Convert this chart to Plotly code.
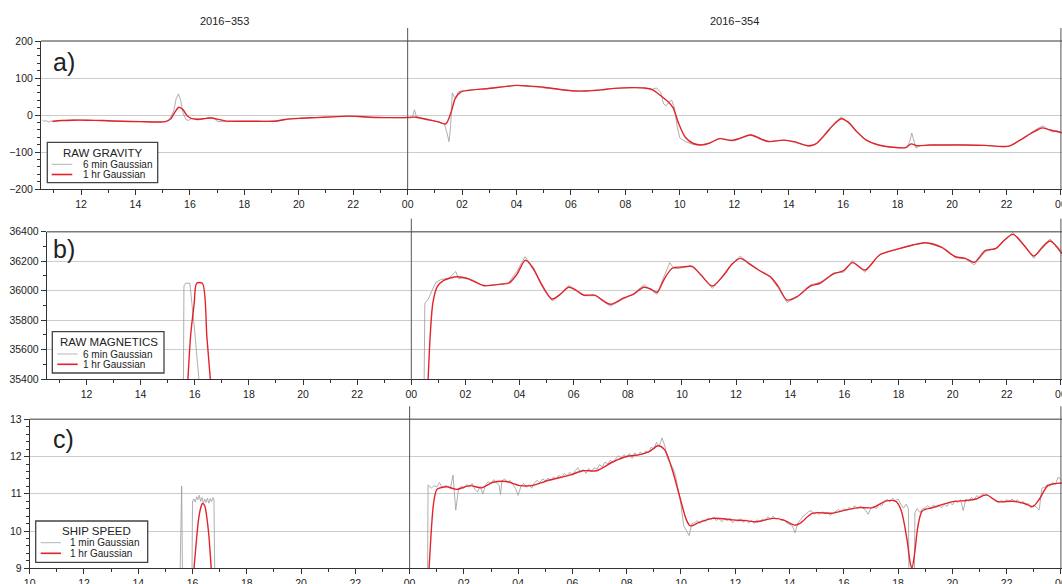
import plotly.graph_objects as go

FIG_W, FIG_H = 1062, 584

# ---------------------------------------------------------------- data
# time axis: hours since 2016-353 00:00 (24 = 2016-354 00:00)
DAY_NAMES = ["2016\u2212353", "2016\u2212354"]
DAY_BOUNDARIES = [24, 48]
TICK_HOURS = [10, 12, 14, 16, 18, 20, 22, 24, 26, 28, 30, 32, 34, 36, 38, 40, 42, 44, 46, 48]
TICK_LABELS = ["10", "12", "14", "16", "18", "20", "22", "00", "02", "04",
               "06", "08", "10", "12", "14", "16", "18", "20", "22", "00"]
MINOR_HOURS = [11, 13, 15, 17, 19, 21, 23, 25, 27, 29, 31, 33, 35, 37, 39, 41, 43, 45, 47]

# a) raw gravity (mGal)
GRAV_6MIN = [
    (10.58, -14), (10.65, -17), (10.72, -15), (10.8, -19), (10.9, -16), (11.0, -18),
    (11.2, -15), (11.5, -13), (11.8, -13), (12.2, -14), (12.6, -14), (13.0, -16),
    (13.4, -17), (13.8, -18), (14.2, -18), (14.6, -19), (14.9, -19), (15.1, -18),
    (15.25, -12), (15.4, 10), (15.5, 45), (15.58, 57), (15.66, 40), (15.75, 5),
    (15.85, -12), (15.95, -15), (16.05, -10), (16.2, -9), (16.4, -11), (16.6, -9),
    (16.75, -6), (16.9, -10), (17.0, -17), (17.2, -18), (17.6, -17), (18.0, -17),
    (18.5, -17), (19.0, -17), (19.3, -16), (19.6, -11), (20.0, -10), (20.5, -8),
    (21.0, -6), (21.5, -4), (22.0, -3), (22.5, -6), (23.0, -7), (23.5, -7),
    (23.9, -7), (24.1, -8), (24.18, -6), (24.25, 14), (24.32, -4), (24.5, -8),
    (24.8, -12), (25.1, -18), (25.35, -24), (25.45, -50), (25.52, -72), (25.58, -30),
    (25.64, 60), (25.7, 50), (25.78, 48), (25.85, 62), (25.95, 65), (26.2, 67),
    (26.6, 69), (27.0, 72), (27.4, 76), (27.8, 78), (28.0, 80), (28.4, 78),
    (28.8, 75), (29.2, 72), (29.6, 68), (30.0, 66), (30.4, 65), (30.8, 66),
    (31.2, 69), (31.6, 72), (32.0, 74), (32.4, 74), (32.8, 72), (33.0, 70),
    (33.15, 73), (33.3, 60), (33.4, 30), (33.5, 25), (33.6, 35), (33.7, 40),
    (33.8, 20), (33.9, -30), (34.0, -62), (34.2, -72), (34.5, -80), (34.8, -80),
    (35.0, -77), (35.3, -68), (35.5, -63), (35.8, -67), (36.0, -70), (36.3, -62),
    (36.6, -52), (36.9, -60), (37.2, -72), (37.6, -69), (37.9, -68), (38.2, -74),
    (38.6, -82), (38.8, -85), (39.1, -74), (39.4, -50), (39.7, -20), (39.93, -5),
    (40.2, -22), (40.5, -45), (40.8, -65), (41.1, -77), (41.5, -85), (41.9, -88),
    (42.2, -89), (42.35, -88), (42.45, -70), (42.52, -49), (42.6, -70), (42.68, -90),
    (42.8, -83), (43.2, -81), (43.7, -81), (44.2, -80), (44.7, -82), (45.2, -82),
    (45.7, -85), (46.0, -86), (46.3, -78), (46.6, -62), (46.9, -48), (47.2, -34),
    (47.35, -30), (47.5, -38), (47.7, -46), (47.85, -42), (48.04, -48),
]
GRAV_1HR = [
    (10.95, -17), (11.3, -15), (11.7, -14), (12.2, -14), (12.8, -15), (13.5, -17),
    (14.2, -18), (14.8, -19), (15.1, -18), (15.3, -10), (15.45, 8), (15.6, 21),
    (15.75, 14), (15.9, -2), (16.05, -9), (16.3, -12), (16.6, -9), (16.8, -8),
    (17.0, -11), (17.3, -16), (17.8, -17), (18.5, -17), (19.1, -17), (19.5, -12),
    (20.0, -9), (20.6, -7), (21.2, -5), (21.8, -3), (22.2, -4), (22.6, -6),
    (23.2, -7), (23.8, -7), (24.3, -6), (24.7, -12), (25.1, -18), (25.4, -24),
    (25.6, 8), (25.75, 45), (25.95, 62), (26.4, 68), (26.9, 71), (27.5, 76),
    (28.0, 80), (28.5, 78), (29.0, 75), (29.6, 69), (30.1, 65), (30.6, 65),
    (31.1, 68), (31.6, 72), (32.2, 74), (32.7, 73), (33.0, 68), (33.3, 52),
    (33.55, 37), (33.75, 20), (33.95, -22), (34.2, -60), (34.5, -77), (34.8, -81),
    (35.1, -76), (35.45, -64), (35.9, -69), (36.2, -63), (36.6, -54), (37.0, -66),
    (37.3, -72), (37.8, -68), (38.2, -72), (38.7, -83), (39.0, -78), (39.3, -55),
    (39.6, -30), (39.93, -10), (40.2, -20), (40.5, -45), (40.85, -68), (41.3, -81),
    (41.8, -87), (42.3, -88), (42.5, -78), (42.7, -83), (43.2, -81), (43.8, -81),
    (44.5, -81), (45.2, -82), (45.8, -85), (46.1, -84), (46.5, -68), (46.9, -50),
    (47.3, -35), (47.5, -38), (47.8, -44), (48.04, -48),
]

# b) raw magnetics (nT)
MAG_6MIN = [
    (15.58, 35300), (15.6, 36030), (15.66, 36050), (15.82, 36050), (16.0, 35720),
    (16.2, 35300), (20.0, None),
    (24.47, 35300), (24.5, 35914), (24.62, 35940), (24.75, 35990), (24.9, 36055),
    (25.1, 36075), (25.4, 36085), (25.64, 36130), (25.75, 36080), (26.0, 36090),
    (26.3, 36070), (26.68, 36030), (27.0, 36040), (27.3, 36042), (27.6, 36055),
    (27.9, 36130), (28.2, 36230), (28.5, 36160), (28.85, 36020), (29.2, 35930),
    (29.5, 35970), (29.82, 36035), (30.1, 36005), (30.37, 35965), (30.8, 35966),
    (31.1, 35925), (31.36, 35895), (31.85, 35945), (32.22, 35980), (32.59, 36040),
    (32.85, 36005), (33.08, 35975), (33.3, 36080), (33.55, 36190), (33.7, 36150),
    (33.9, 36150), (34.1, 36160), (34.38, 36170), (34.7, 36110), (35.12, 36015),
    (35.54, 36100), (35.85, 36180), (36.15, 36235), (36.5, 36185), (36.83, 36140),
    (37.27, 36090), (37.55, 36020), (37.88, 35920), (38.25, 35955), (38.74, 36040),
    (39.1, 36055), (39.6, 36120), (39.97, 36125), (40.3, 36205), (40.76, 36125),
    (41.3, 36245), (41.92, 36280), (42.54, 36312), (43.0, 36326), (43.6, 36292),
    (44.1, 36225), (44.47, 36215), (44.8, 36175), (45.2, 36265), (45.6, 36285),
    (45.9, 36345), (46.23, 36395), (46.63, 36305), (47.0, 36220), (47.3, 36300),
    (47.6, 36350), (48.04, 36265),
]
MAG_1HR = [
    (15.72, 35300), (15.85, 35700), (15.98, 35914), (16.07, 36050), (16.28, 36050),
    (16.45, 35680), (16.62, 35300), (20.0, None),
    (24.6, 35300), (24.7, 35700), (24.8, 35920), (24.96, 36027), (25.2, 36070),
    (25.7, 36094), (26.1, 36080), (26.68, 36035), (27.3, 36044), (27.6, 36050),
    (27.9, 36110), (28.22, 36207), (28.5, 36150), (28.85, 36030), (29.2, 35943),
    (29.5, 35975), (29.82, 36023), (30.1, 36000), (30.37, 35970), (30.8, 35968),
    (31.1, 35930), (31.36, 35907), (31.85, 35950), (32.22, 35977), (32.59, 36023),
    (32.85, 36010), (33.08, 35989), (33.35, 36080), (33.64, 36152), (34.0, 36160),
    (34.38, 36163), (34.7, 36106), (35.12, 36031), (35.54, 36106), (35.85, 36180),
    (36.15, 36219), (36.5, 36180), (36.83, 36140), (37.27, 36094), (37.55, 36030),
    (37.88, 35936), (38.25, 35959), (38.74, 36031), (39.1, 36050), (39.6, 36113),
    (39.97, 36135), (40.3, 36190), (40.76, 36140), (41.3, 36242), (41.92, 36280),
    (42.54, 36310), (43.0, 36325), (43.6, 36294), (44.1, 36230), (44.47, 36219),
    (44.8, 36192), (45.2, 36271), (45.6, 36287), (45.9, 36340), (46.23, 36382),
    (46.63, 36310), (47.0, 36235), (47.3, 36290), (47.6, 36337), (48.04, 36250),
]

# c) ship speed (knots)
SPEED_1MIN = [
    (15.54, 8.8), (15.6, 11.21), (15.63, 8.8), (15.8, None),
    (15.98, 8.8), (16.0, 10.8), (16.05, 10.86), (16.1, 10.78), (16.15, 10.92),
    (16.2, 10.84), (16.25, 10.96), (16.3, 10.8), (16.35, 10.9), (16.4, 10.74),
    (16.45, 10.86), (16.5, 10.77), (16.55, 10.88), (16.6, 10.75), (16.65, 10.87),
    (16.7, 10.79), (16.75, 10.9), (16.79, 10.86), (16.82, 8.8), (20.0, None),
    (24.66, 8.8), (24.68, 11.24), (24.8, 11.15), (24.9, 11.22), (25.0, 11.18),
    (25.1, 11.3), (25.2, 11.16), (25.3, 11.22), (25.4, 11.2), (25.5, 11.14),
    (25.6, 11.5), (25.7, 10.56), (25.8, 11.12), (25.9, 11.2), (26.0, 11.15),
    (26.1, 11.25), (26.2, 11.18), (26.3, 11.28), (26.4, 11.12), (26.5, 11.05),
    (26.6, 11.2), (26.7, 11.0), (26.8, 11.25), (26.9, 11.32), (27.0, 11.28),
    (27.1, 11.38), (27.2, 11.3), (27.3, 11.22), (27.35, 10.98), (27.4, 11.34),
    (27.5, 11.4), (27.6, 11.3), (27.7, 11.36), (27.8, 11.24), (27.9, 11.15),
    (28.0, 10.96), (28.1, 11.2), (28.2, 11.28), (28.3, 11.18), (28.4, 11.24),
    (28.5, 11.15), (28.6, 11.3), (28.7, 11.36), (28.8, 11.3), (28.9, 11.4),
    (29.0, 11.35), (29.1, 11.42), (29.2, 11.36), (29.3, 11.45), (29.4, 11.4),
    (29.5, 11.5), (29.6, 11.42), (29.7, 11.55), (29.8, 11.48), (29.9, 11.58),
    (30.0, 11.5), (30.1, 11.62), (30.2, 11.7), (30.3, 11.58), (30.4, 11.65),
    (30.5, 11.55), (30.6, 11.68), (30.7, 11.6), (30.8, 11.7), (30.9, 11.66),
    (31.0, 11.78), (31.1, 11.72), (31.2, 11.85), (31.3, 11.8), (31.4, 11.9),
    (31.5, 11.84), (31.6, 11.95), (31.7, 12.02), (31.8, 11.96), (31.9, 12.05),
    (32.0, 11.98), (32.1, 12.08), (32.2, 11.95), (32.3, 12.1), (32.4, 12.02),
    (32.5, 12.12), (32.6, 12.06), (32.7, 12.15), (32.8, 12.1), (32.9, 12.25),
    (33.0, 12.2), (33.1, 12.38), (33.2, 12.28), (33.3, 12.5), (33.4, 12.3),
    (33.5, 11.95), (33.6, 11.82), (33.7, 11.7), (33.8, 11.48), (33.9, 11.1),
    (34.0, 10.7), (34.1, 10.15), (34.2, 10.0), (34.3, 9.88), (34.4, 10.2),
    (34.5, 10.22), (34.6, 10.28), (34.7, 10.2), (34.8, 10.3), (34.9, 10.26),
    (35.0, 10.35), (35.1, 10.3), (35.2, 10.38), (35.3, 10.28), (35.4, 10.34),
    (35.5, 10.25), (35.6, 10.32), (35.7, 10.28), (35.8, 10.35), (35.9, 10.22),
    (36.0, 10.3), (36.1, 10.26), (36.2, 10.33), (36.3, 10.24), (36.4, 10.3),
    (36.5, 10.22), (36.6, 10.28), (36.7, 10.2), (36.8, 10.3), (36.9, 10.25),
    (37.0, 10.32), (37.1, 10.28), (37.2, 10.38), (37.3, 10.33), (37.4, 10.4),
    (37.5, 10.32), (37.6, 10.35), (37.7, 10.28), (37.8, 10.3), (37.9, 10.22),
    (38.0, 10.18), (38.1, 10.15), (38.2, 9.95), (38.3, 10.2), (38.4, 10.3),
    (38.5, 10.4), (38.6, 10.45), (38.7, 10.52), (38.8, 10.55), (38.9, 10.45),
    (39.0, 10.5), (39.1, 10.44), (39.2, 10.52), (39.3, 10.46), (39.4, 10.5),
    (39.5, 10.42), (39.6, 10.48), (39.7, 10.52), (39.8, 10.58), (39.9, 10.52),
    (40.0, 10.6), (40.1, 10.55), (40.2, 10.64), (40.3, 10.58), (40.4, 10.68),
    (40.5, 10.6), (40.6, 10.66), (40.7, 10.62), (40.8, 10.56), (40.9, 10.45),
    (41.0, 10.62), (41.1, 10.66), (41.2, 10.6), (41.3, 10.72), (41.4, 10.68),
    (41.5, 10.8), (41.6, 10.85), (41.7, 10.78), (41.8, 10.88), (41.9, 10.82),
    (42.0, 10.86), (42.1, 10.72), (42.2, 10.62), (42.3, 10.72), (42.38, 10.6),
    (42.4, 8.8), (42.6, 8.8), (42.62, 10.5), (42.7, 10.6), (42.8, 10.5),
    (42.9, 10.6), (43.0, 10.62), (43.1, 10.68), (43.2, 10.6), (43.3, 10.7),
    (43.4, 10.64), (43.5, 10.7), (43.6, 10.62), (43.7, 10.72), (43.8, 10.66),
    (43.9, 10.78), (44.0, 10.7), (44.1, 10.82), (44.2, 10.76), (44.3, 10.84),
    (44.4, 10.55), (44.5, 10.86), (44.6, 10.8), (44.7, 10.9), (44.8, 10.84),
    (44.9, 10.95), (45.0, 10.9), (45.1, 11.0), (45.2, 10.96), (45.3, 10.98),
    (45.4, 10.9), (45.5, 10.85), (45.6, 10.8), (45.7, 10.76), (45.8, 10.82),
    (45.9, 10.78), (46.0, 10.84), (46.1, 10.8), (46.2, 10.86), (46.3, 10.78),
    (46.4, 10.84), (46.5, 10.74), (46.6, 10.8), (46.7, 10.7), (46.8, 10.74),
    (46.9, 10.62), (47.0, 10.7), (47.1, 10.62), (47.2, 10.57), (47.3, 11.15),
    (47.4, 11.18), (47.5, 11.25), (47.6, 11.2), (47.7, 11.3), (47.8, 11.26),
    (47.9, 11.45), (48.04, 11.35),
]
SPEED_1HR = [
    (16.03, 8.8), (16.15, 9.8), (16.22, 10.3), (16.3, 10.62), (16.37, 10.74),
    (16.45, 10.68), (16.52, 10.4), (16.6, 9.9), (16.69, 9.0), (16.72, 8.8),
    (20.0, None),
    (24.7, 8.8), (24.78, 9.8), (24.86, 10.6), (24.93, 10.95), (25.01, 11.12),
    (25.36, 11.19), (25.73, 11.12), (26.22, 11.22), (26.65, 11.16), (27.08, 11.31),
    (27.57, 11.33), (28.06, 11.22), (28.49, 11.22), (29.16, 11.37), (29.9, 11.5),
    (30.39, 11.62), (30.88, 11.62), (31.5, 11.86), (31.99, 12.0), (32.48, 12.05),
    (32.85, 12.14), (33.15, 12.29), (33.4, 12.18), (33.68, 11.64), (33.95, 10.93),
    (34.2, 10.3), (34.34, 10.14), (34.69, 10.24), (35.18, 10.34), (35.92, 10.3),
    (36.4, 10.28), (36.78, 10.25), (37.39, 10.34), (37.76, 10.3), (38.19, 10.16),
    (38.37, 10.2), (38.86, 10.48), (39.6, 10.48), (40.09, 10.57), (40.58, 10.63),
    (41.07, 10.63), (41.57, 10.81), (41.93, 10.79), (42.12, 10.54), (42.33, 9.76),
    (42.45, 9.13), (42.51, 9.0), (42.61, 9.4), (42.73, 10.12), (42.89, 10.54),
    (43.28, 10.63), (44.02, 10.79), (44.51, 10.82), (44.88, 10.86), (45.25, 10.97),
    (45.68, 10.79), (46.23, 10.8), (46.66, 10.74), (46.97, 10.66), (47.21, 10.86),
    (47.52, 11.22), (48.04, 11.29),
]

# ---------------------------------------------------------------- styling
FONT = "Liberation Sans, Arial, Helvetica, sans-serif"
TXT = "#222222"
AX = "#333333"
RED = "#e3232b"
GRAY = "#9a9a9a"


def px_x(p):
    return p / FIG_W


def px_y(p):
    return 1 - p / FIG_H


PANELS = [
    dict(letter="a)", title="RAW GRAVITY", fine="6 min Gaussian", fine_data=GRAV_6MIN,
         smooth_data=GRAV_1HR, left=41.0, top=41.0, bottom=189.0, xstart=10.53,
         yrange=[-200, 200], dtick=100, minor=20, letter_y=62,
         legbox=(47.3, 142.3, 157.7, 182.7), legtitle=(103, 152.5),
         samp=(51.7, 72.3), textx=80.5, rows=(164.3, 174.5)),
    dict(letter="b)", title="RAW MAGNETICS", fine="6 min Gaussian", fine_data=MAG_6MIN,
         smooth_data=MAG_1HR, left=46.7, top=231.7, bottom=379.0, xstart=10.53,
         yrange=[35400, 36400], dtick=200, minor=100, letter_y=249,
         legbox=(52.3, 331.7, 164.0, 373.0), legtitle=(108.5, 341.7),
         samp=(57.3, 77.7), textx=81, rows=(354.0, 364.3)),
    dict(letter="c)", title="SHIP SPEED", fine="1 min Gaussian", fine_data=SPEED_1MIN,
         smooth_data=SPEED_1HR, left=29.7, top=419.3, bottom=568.3, xstart=10.0,
         yrange=[9, 13], dtick=1, minor=0.2, letter_y=439,
         legbox=(35.7, 521.0, 147.7, 562.3), legtitle=(96, 530.7),
         samp=(40.7, 61.0), textx=68.3, rows=(542.7, 553.3)),
]
X_END = 48.04

fig = go.Figure()
shapes = []
annotations = []

for i, p in enumerate(PANELS, start=1):
    xa = "x" if i == 1 else f"x{i}"
    ya = "y" if i == 1 else f"y{i}"
    fx, fy = zip(*p["fine_data"])
    sx, sy = zip(*p["smooth_data"])
    fig.add_trace(go.Scatter(x=fx, y=fy, xaxis=xa, yaxis=ya, mode="lines",
                             name=p["fine"], showlegend=False,
                             line=dict(color=GRAY, width=0.8)))
    fig.add_trace(go.Scatter(x=sx, y=sy, xaxis=xa, yaxis=ya, mode="lines",
                             name="1 hr Gaussian", showlegend=False,
                             line=dict(color=RED, width=1.4, shape="spline", smoothing=0.8)))

    xdom = [px_x(p["left"]), 1.0]
    ydom = [px_y(p["bottom"]), px_y(p["top"])]
    xkey = "xaxis" if i == 1 else f"xaxis{i}"
    ykey = "yaxis" if i == 1 else f"yaxis{i}"
    fig.layout[xkey] = dict(
        domain=xdom, range=[p["xstart"], X_END], anchor=ya, automargin=False,
        tickmode="array", tickvals=TICK_HOURS, ticktext=TICK_LABELS,
        ticks="outside", ticklen=5, tickwidth=1, tickcolor=AX,
        showline=True, linecolor=AX, linewidth=1, showgrid=False, zeroline=False,
        ticklabeloverflow="allow",
        tickfont=dict(family=FONT, size=10.5, color=TXT),
        minor=dict(tickmode="array", tickvals=MINOR_HOURS, ticks="outside",
                   ticklen=3, tickcolor=AX, showgrid=False),
    )
    fig.layout[ykey] = dict(
        domain=ydom, range=p["yrange"], anchor=xa, automargin=False,
        tickmode="linear", tick0=p["yrange"][0], dtick=p["dtick"], tickformat="d",
        ticks="outside", ticklen=5, tickwidth=1, tickcolor=AX,
        showline=True, linecolor=AX, linewidth=1, ticklabeloverflow="allow",
        showgrid=True, gridcolor="#cccccc", gridwidth=1, zeroline=False,
        tickfont=dict(family=FONT, size=10.5, color=TXT),
        minor=dict(tick0=p["yrange"][0], dtick=p["minor"], ticks="outside",
                   ticklen=3, tickcolor=AX, showgrid=False),
    )

    # top frame line
    shapes.append(dict(type="line", xref="paper", yref="paper",
                       x0=xdom[0], x1=1.0, y0=ydom[1], y1=ydom[1],
                       line=dict(color="#7a7a7a", width=1.6)))
    # day boundary lines
    for b in DAY_BOUNDARIES:
        shapes.append(dict(type="line", xref=xa, yref="paper", x0=b, x1=b,
                           y0=ydom[0], y1=px_y(p["top"] - 13),
                           line=dict(color="#555555", width=1)))

    # panel letter
    annotations.append(dict(text=p["letter"], xref="paper", yref="paper",
                            x=px_x(51), y=px_y(p["letter_y"]), xanchor="left",
                            yanchor="middle", showarrow=False,
                            font=dict(family=FONT, size=25, color=TXT)))

    # legend box
    bx0, by0, bx1, by1 = p["legbox"]
    shapes.append(dict(type="rect", xref="paper", yref="paper",
                       x0=px_x(bx0), x1=px_x(bx1), y0=px_y(by1), y1=px_y(by0),
                       fillcolor="white", line=dict(color="#444444", width=1.3)))
    annotations.append(dict(text=p["title"], xref="paper", yref="paper",
                            x=px_x(p["legtitle"][0]), y=px_y(p["legtitle"][1]),
                            xanchor="center", yanchor="middle", showarrow=False,
                            font=dict(family=FONT, size=11.5, color=TXT)))
    for (label, col, wid), ry in zip([(p["fine"], "#b5b5b5", 1.0),
                                      ("1 hr Gaussian", RED, 1.6)], p["rows"]):
        shapes.append(dict(type="line", xref="paper", yref="paper",
                           x0=px_x(p["samp"][0]), x1=px_x(p["samp"][1]),
                           y0=px_y(ry), y1=px_y(ry), line=dict(color=col, width=wid)))
        annotations.append(dict(text=label, xref="paper", yref="paper",
                                x=px_x(p["textx"]), y=px_y(ry), xanchor="left",
                                yanchor="middle", showarrow=False,
                                font=dict(family=FONT, size=10, color=TXT)))

# day labels above the first panel, centred on each day's visible span
day_spans = [(PANELS[0]["xstart"], DAY_BOUNDARIES[0]), (DAY_BOUNDARIES[0], DAY_BOUNDARIES[1])]
for name, (d0, d1) in zip(DAY_NAMES, day_spans):
    annotations.append(dict(text=name, xref="x", yref="paper", x=(d0 + d1) / 2,
                            y=px_y(21), xanchor="center", yanchor="middle",
                            showarrow=False, font=dict(family=FONT, size=11, color=TXT)))

fig.update_layout(
    width=FIG_W, height=FIG_H,
    margin=dict(l=0, r=0, t=0, b=0, pad=0, autoexpand=False),
    paper_bgcolor="white", plot_bgcolor="white", showlegend=False,
    shapes=shapes, annotations=annotations, font=dict(family=FONT, color=TXT),
)

fig.write_html(
    "out.html",
    config={"displayModeBar": False},
    post_script="document.body.style.margin='0';document.body.style.padding='0';"
                "document.body.style.overflow='hidden';",
)
